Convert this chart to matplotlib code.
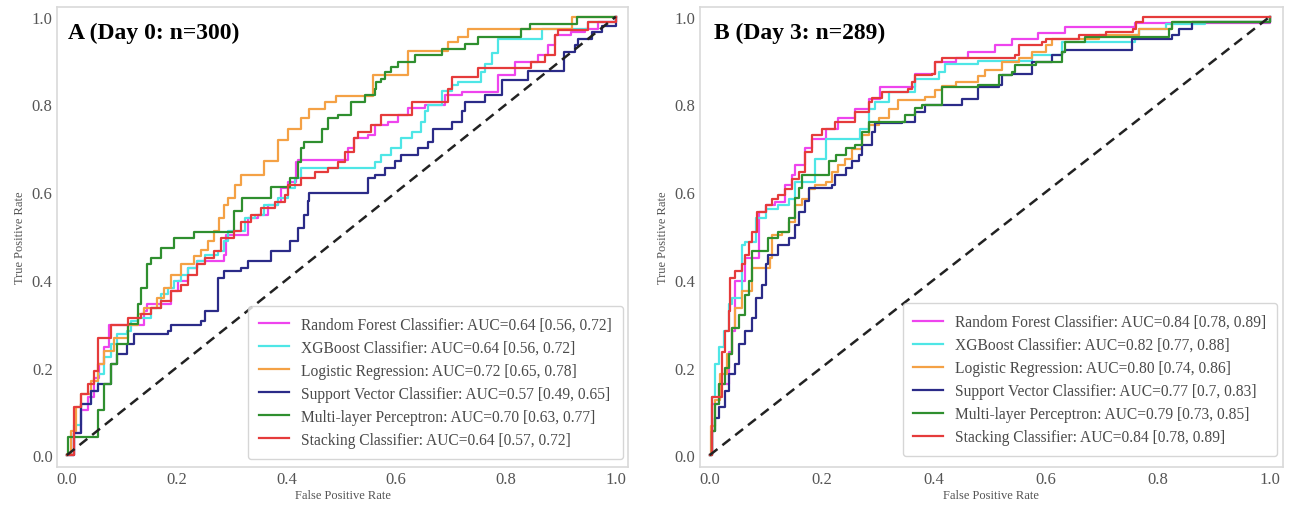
import matplotlib
matplotlib.use("Agg")
import matplotlib.pyplot as plt

plt.rcParams["font.family"] = ["Liberation Serif", "DejaVu Serif"]

MODELS = ["Random Forest Classifier", "XGBoost Classifier", "Logistic Regression",
          "Support Vector Classifier", "Multi-layer Perceptron", "Stacking Classifier"]
COLORS = ["#ee44ee", "#4ee6e6", "#f4a145", "#2b2b88", "#2f8f2f", "#e53b3b"]

# AUC [95% CI] per model
A_AUC = ["0.64 [0.56, 0.72]", "0.64 [0.56, 0.72]", "0.72 [0.65, 0.78]",
         "0.57 [0.49, 0.65]", "0.70 [0.63, 0.77]", "0.64 [0.57, 0.72]"]
B_AUC = ["0.84 [0.78, 0.89]", "0.82 [0.77, 0.88]", "0.80 [0.74, 0.86]",
         "0.77 [0.7, 0.83]", "0.79 [0.73, 0.85]", "0.84 [0.78, 0.89]"]

# ---- panel A (Day 0) ROC points ----
A_RF_FPR = [0, 0.0135, 0.026, 0.038, 0.05, 0.059, 0.068, 0.077, 0.105, 0.141, 0.147, 0.19, 0.202, 0.22,
            0.238, 0.287, 0.29, 0.33, 0.348, 0.366, 0.385, 0.39, 0.403, 0.418, 0.421, 0.512, 0.524, 0.549,
            0.561, 0.585, 0.603, 0.622, 0.652, 0.689, 0.719, 0.786, 0.817, 0.859, 0.877, 0.889, 0.919,
            0.944, 0.968, 1.0]
A_RF_TPR = [0, 0.05, 0.102, 0.132, 0.177, 0.208, 0.246, 0.298, 0.298, 0.329, 0.344, 0.374, 0.397, 0.427,
            0.442, 0.457, 0.503, 0.541, 0.548, 0.571, 0.578, 0.609, 0.624, 0.669, 0.673, 0.70, 0.723, 0.73,
            0.753, 0.76, 0.776, 0.791, 0.798, 0.821, 0.829, 0.866, 0.897, 0.912, 0.935, 0.958, 0.966,
            0.973, 0.988, 1.0]

A_XGB_FPR = [0, 0.0135, 0.026, 0.044, 0.056, 0.068, 0.08, 0.092, 0.11, 0.117, 0.129, 0.153, 0.172, 0.184,
             0.196, 0.208, 0.22, 0.238, 0.251, 0.275, 0.287, 0.293, 0.324, 0.342, 0.36, 0.385, 0.403, 0.415,
             0.427, 0.549, 0.561, 0.573, 0.591, 0.609, 0.628, 0.646, 0.652, 0.658, 0.683, 0.701, 0.713,
             0.755, 0.761, 0.774, 0.786, 0.865, 0.95, 1.0]
A_XGB_TPR = [0, 0.068, 0.117, 0.147, 0.185, 0.223, 0.253, 0.276, 0.283, 0.306, 0.314, 0.336, 0.367, 0.382,
             0.397, 0.412, 0.427, 0.442, 0.457, 0.465, 0.488, 0.511, 0.541, 0.548, 0.571, 0.586, 0.609, 0.632,
             0.654, 0.654, 0.669, 0.685, 0.70, 0.723, 0.738, 0.761, 0.784, 0.798, 0.83, 0.845, 0.852,
             0.874, 0.892, 0.918, 0.95, 0.973, 0.988, 1.0]

A_LR_FPR = [0, 0.001, 0.007, 0.016, 0.026, 0.044, 0.056, 0.068, 0.086, 0.111, 0.129, 0.141, 0.165, 0.178,
            0.19, 0.208, 0.232, 0.244, 0.257, 0.269, 0.278, 0.287, 0.293, 0.306, 0.318, 0.36, 0.384, 0.403,
            0.427, 0.442, 0.47, 0.491, 0.558, 0.597, 0.622, 0.695, 0.713, 0.731, 0.92, 1.0]
A_LR_TPR = [0, 0.003, 0.056, 0.109, 0.14, 0.17, 0.207, 0.238, 0.268, 0.298, 0.321, 0.336, 0.359, 0.382,
            0.412, 0.435, 0.454, 0.469, 0.488, 0.511, 0.541, 0.571, 0.586, 0.617, 0.64, 0.671, 0.72, 0.745,
            0.768, 0.79, 0.806, 0.82, 0.866, 0.866, 0.923, 0.942, 0.954, 0.971, 1.0, 1.0]

A_SVC_FPR = [0, 0.003, 0.0135, 0.026, 0.044, 0.056, 0.08, 0.092, 0.11, 0.123, 0.172, 0.184, 0.19, 0.244,
             0.251, 0.275, 0.287, 0.318, 0.33, 0.366, 0.372, 0.406, 0.421, 0.433, 0.439, 0.442, 0.546,
             0.549, 0.561, 0.579, 0.597, 0.609, 0.64, 0.658, 0.667, 0.701, 0.719, 0.725, 0.762, 0.792,
             0.841, 0.902, 0.905, 0.926, 0.932, 0.957, 0.975, 1.0]
A_SVC_TPR = [0, 0, 0.05, 0.117, 0.147, 0.162, 0.208, 0.23, 0.253, 0.276, 0.276, 0.283, 0.298, 0.306,
             0.329, 0.404, 0.42, 0.427, 0.442, 0.442, 0.465, 0.488, 0.518, 0.548, 0.579, 0.597, 0.597,
             0.632, 0.64, 0.655, 0.67, 0.685, 0.70, 0.715, 0.745, 0.761, 0.784, 0.806, 0.821, 0.855,
             0.877, 0.877, 0.92, 0.935, 0.95, 0.966, 0.98, 1.0]

A_MLP_FPR = [0, 0.003, 0.05, 0.056, 0.068, 0.08, 0.092, 0.111, 0.129, 0.135, 0.147, 0.153, 0.172, 0.196,
             0.232, 0.299, 0.305, 0.32, 0.366, 0.372, 0.406, 0.421, 0.427, 0.433, 0.464, 0.476, 0.494,
             0.518, 0.543, 0.561, 0.564, 0.573, 0.579, 0.591, 0.603, 0.634, 0.683, 0.725, 0.749, 0.828,
             0.843, 0.93, 1.0]
A_MLP_TPR = [0, 0.041, 0.041, 0.102, 0.162, 0.208, 0.253, 0.30, 0.344, 0.382, 0.435, 0.45, 0.473, 0.495,
             0.51, 0.51, 0.556, 0.586, 0.586, 0.612, 0.632, 0.669, 0.70, 0.715, 0.745, 0.768, 0.776,
             0.806, 0.821, 0.836, 0.851, 0.859, 0.874, 0.886, 0.897, 0.912, 0.927, 0.938, 0.954, 0.973,
             0.984, 1.0, 1.0]

A_STK_FPR = [0, 0.0135, 0.026, 0.038, 0.05, 0.056, 0.08, 0.111, 0.135, 0.153, 0.172, 0.19, 0.208, 0.22,
             0.238, 0.251, 0.269, 0.281, 0.305, 0.318, 0.336, 0.354, 0.379, 0.397, 0.403, 0.427, 0.452,
             0.476, 0.494, 0.506, 0.524, 0.53, 0.555, 0.573, 0.622, 0.628, 0.695, 0.701, 0.749, 0.846,
             0.871, 0.889, 0.895, 0.95, 1.0]
A_STK_TPR = [0, 0.11, 0.14, 0.162, 0.192, 0.268, 0.298, 0.314, 0.321, 0.336, 0.352, 0.374, 0.389, 0.412,
             0.435, 0.45, 0.465, 0.495, 0.511, 0.533, 0.548, 0.563, 0.578, 0.593, 0.616, 0.632, 0.647,
             0.654, 0.669, 0.692, 0.723, 0.738, 0.753, 0.776, 0.776, 0.806, 0.836, 0.863, 0.882, 0.897,
             0.912, 0.958, 0.97, 0.988, 1.0]

# ---- panel B (Day 3) ROC points ----
B_RF_FPR = [0, 0.004, 0.016, 0.034, 0.04, 0.046, 0.064, 0.088, 0.1, 0.117, 0.135, 0.147, 0.153, 0.171,
            0.183, 0.207, 0.23, 0.26, 0.284, 0.305, 0.355, 0.367, 0.403, 0.44, 0.462, 0.51, 0.54, 0.587,
            0.635, 0.76, 0.995, 1.0]
B_RF_TPR = [0, 0.116, 0.162, 0.236, 0.283, 0.397, 0.45, 0.555, 0.57, 0.578, 0.616, 0.639, 0.661, 0.70,
            0.722, 0.745, 0.768, 0.79, 0.813, 0.84, 0.84, 0.87, 0.897, 0.905, 0.92, 0.935, 0.95, 0.962,
            0.977, 0.985, 0.985, 1.0]

B_XGB_FPR = [0, 0.004, 0.01, 0.016, 0.025, 0.034, 0.04, 0.058, 0.064, 0.082, 0.1, 0.123, 0.141, 0.153,
             0.189, 0.207, 0.266, 0.269, 0.284, 0.296, 0.32, 0.367, 0.409, 0.421, 0.48, 0.576, 0.629,
             0.76, 0.766, 0.814, 0.885, 1.0]
B_XGB_TPR = [0, 0.132, 0.208, 0.246, 0.283, 0.344, 0.359, 0.48, 0.487, 0.54, 0.562, 0.57, 0.585, 0.623,
             0.676, 0.722, 0.722, 0.745, 0.79, 0.806, 0.829, 0.859, 0.874, 0.893, 0.90, 0.912, 0.942,
             0.958, 0.973, 0.984, 0.988, 1.0]

B_LR_FPR = [0, 0.003, 0.01, 0.019, 0.031, 0.04, 0.046, 0.058, 0.076, 0.1, 0.107, 0.111, 0.13, 0.141,
            0.153, 0.165, 0.177, 0.189, 0.207, 0.219, 0.23, 0.242, 0.254, 0.272, 0.284, 0.302, 0.32,
            0.337, 0.385, 0.403, 0.415, 0.439, 0.48, 0.492, 0.522, 0.552, 0.576, 0.6, 0.612, 0.695,
            0.766, 0.826, 1.0]
B_LR_TPR = [0, 0.066, 0.126, 0.186, 0.23, 0.29, 0.336, 0.374, 0.427, 0.427, 0.45, 0.503, 0.51, 0.532,
            0.57, 0.585, 0.608, 0.616, 0.623, 0.646, 0.661, 0.676, 0.699, 0.73, 0.752, 0.768, 0.79,
            0.811, 0.818, 0.833, 0.841, 0.852, 0.864, 0.879, 0.897, 0.905, 0.92, 0.935, 0.95, 0.958,
            0.973, 0.988, 1.0]

B_SVC_FPR = [0, 0.004, 0.01, 0.016, 0.028, 0.034, 0.046, 0.052, 0.064, 0.076, 0.082, 0.094, 0.1, 0.105,
             0.123, 0.141, 0.153, 0.159, 0.171, 0.177, 0.218, 0.224, 0.243, 0.254, 0.266, 0.272, 0.29,
             0.296, 0.343, 0.367, 0.385, 0.45, 0.48, 0.516, 0.522, 0.54, 0.576, 0.612, 0.629, 0.635,
             0.748, 0.754, 0.826, 0.838, 0.862, 0.957, 1.0]
B_SVC_TPR = [0, 0.056, 0.086, 0.11, 0.147, 0.185, 0.207, 0.253, 0.283, 0.313, 0.359, 0.389, 0.435, 0.457,
             0.48, 0.495, 0.525, 0.555, 0.579, 0.609, 0.617, 0.64, 0.654, 0.67, 0.685, 0.708, 0.738,
             0.757, 0.76, 0.783, 0.798, 0.813, 0.84, 0.844, 0.867, 0.87, 0.897, 0.912, 0.92, 0.924,
             0.924, 0.95, 0.958, 0.973, 0.988, 0.988, 1.0]

B_MLP_FPR = [0, 0.004, 0.01, 0.016, 0.028, 0.034, 0.04, 0.052, 0.064, 0.07, 0.076, 0.1, 0.105, 0.123,
             0.141, 0.153, 0.159, 0.165, 0.207, 0.213, 0.225, 0.243, 0.26, 0.272, 0.284, 0.343, 0.349,
             0.367, 0.379, 0.415, 0.48, 0.516, 0.54, 0.546, 0.582, 0.629, 0.635, 0.671, 0.82, 0.826, 1.0]
B_MLP_TPR = [0, 0.056, 0.116, 0.162, 0.20, 0.23, 0.29, 0.32, 0.366, 0.397, 0.465, 0.465, 0.495, 0.51,
             0.541, 0.586, 0.609, 0.639, 0.639, 0.67, 0.685, 0.70, 0.708, 0.738, 0.76, 0.76, 0.776,
             0.791, 0.798, 0.84, 0.844, 0.867, 0.874, 0.889, 0.897, 0.92, 0.942, 0.953, 0.973, 0.988, 1.0]

B_STK_FPR = [0, 0.004, 0.022, 0.028, 0.034, 0.037, 0.046, 0.058, 0.064, 0.07, 0.076, 0.085, 0.1, 0.111,
             0.123, 0.135, 0.147, 0.159, 0.171, 0.183, 0.2, 0.224, 0.26, 0.284, 0.29, 0.308, 0.355,
             0.361, 0.367, 0.397, 0.403, 0.415, 0.546, 0.552, 0.594, 0.6, 0.659, 0.707, 0.755, 0.761,
             0.773, 1.0]
B_STK_TPR = [0, 0.132, 0.236, 0.283, 0.33, 0.405, 0.42, 0.435, 0.457, 0.487, 0.51, 0.555, 0.57, 0.585,
             0.593, 0.608, 0.631, 0.646, 0.692, 0.73, 0.745, 0.76, 0.783, 0.806, 0.814, 0.829, 0.836,
             0.851, 0.866, 0.87, 0.897, 0.905, 0.912, 0.935, 0.942, 0.95, 0.958, 0.966, 0.973, 0.988,
             1.0, 1.0]

PANELS = [
    ("A (Day 0: n=300)", A_AUC,
     [(A_RF_FPR, A_RF_TPR), (A_XGB_FPR, A_XGB_TPR), (A_LR_FPR, A_LR_TPR),
      (A_SVC_FPR, A_SVC_TPR), (A_MLP_FPR, A_MLP_TPR), (A_STK_FPR, A_STK_TPR)]),
    ("B (Day 3: n=289)", B_AUC,
     [(B_RF_FPR, B_RF_TPR), (B_XGB_FPR, B_XGB_TPR), (B_LR_FPR, B_LR_TPR),
      (B_SVC_FPR, B_SVC_TPR), (B_MLP_FPR, B_MLP_TPR), (B_STK_FPR, B_STK_TPR)]),
]

fig = plt.figure(figsize=(12.93, 5.06), dpi=100)
rects = [[0.044, 0.075, 0.442, 0.909], [0.541, 0.075, 0.451, 0.909]]
title_x = [0.019, 0.024]
leg_anchor = [(0.99, 0.018), (0.991, 0.024)]

for rect, tx, anchor, (title, aucs, curves) in zip(rects, title_x, leg_anchor, PANELS):
    ax = fig.add_axes(rect)
    for name, col, auc, (fpr, tpr) in zip(MODELS, COLORS, aucs, curves):
        ax.plot(fpr, tpr, color=col, lw=1.6, drawstyle="steps-post",
                label=f"{name}: AUC={auc}")
    ax.plot([0, 1], [0, 1], color="#222222", lw=1.8, ls=(0, (4, 2.5)))
    ax.set_xlim(-0.018, 1.023)
    ax.set_ylim(-0.027, 1.022)
    ax.set_xticks([0, 0.2, 0.4, 0.6, 0.8, 1.0])
    ax.set_yticks([0, 0.2, 0.4, 0.6, 0.8, 1.0])
    ax.set_xticklabels(["0.0", "0.2", "0.4", "0.6", "0.8", "1.0"])
    ax.set_yticklabels(["0.0", "0.2", "0.4", "0.6", "0.8", "1.0"])
    ax.tick_params(length=0, labelsize=12, labelcolor="#555555", pad=3)
    for s in ax.spines.values():
        s.set_color("#d9d9d9")
        s.set_linewidth(1.2)
    ax.set_xlabel("False Positive Rate", fontsize=9, color="#555555", labelpad=1)
    ax.set_ylabel("True Positive Rate", fontsize=9, color="#555555", labelpad=4)
    ax.text(tx, 0.944, title, transform=ax.transAxes, fontsize=17, fontweight="bold",
            va="center", ha="left", color="black")
    leg = ax.legend(loc="lower right", fontsize=11.2, labelspacing=0.45, handlelength=1.9,
                    handletextpad=0.8, borderpad=0.7, borderaxespad=0, frameon=True,
                    fancybox=True, bbox_to_anchor=anchor)
    leg.get_frame().set_edgecolor("#cccccc")
    leg.get_frame().set_linewidth(1.0)
    for t in leg.get_texts():
        t.set_color("#4a4a4a")

fig.savefig("out.png", dpi=100)
